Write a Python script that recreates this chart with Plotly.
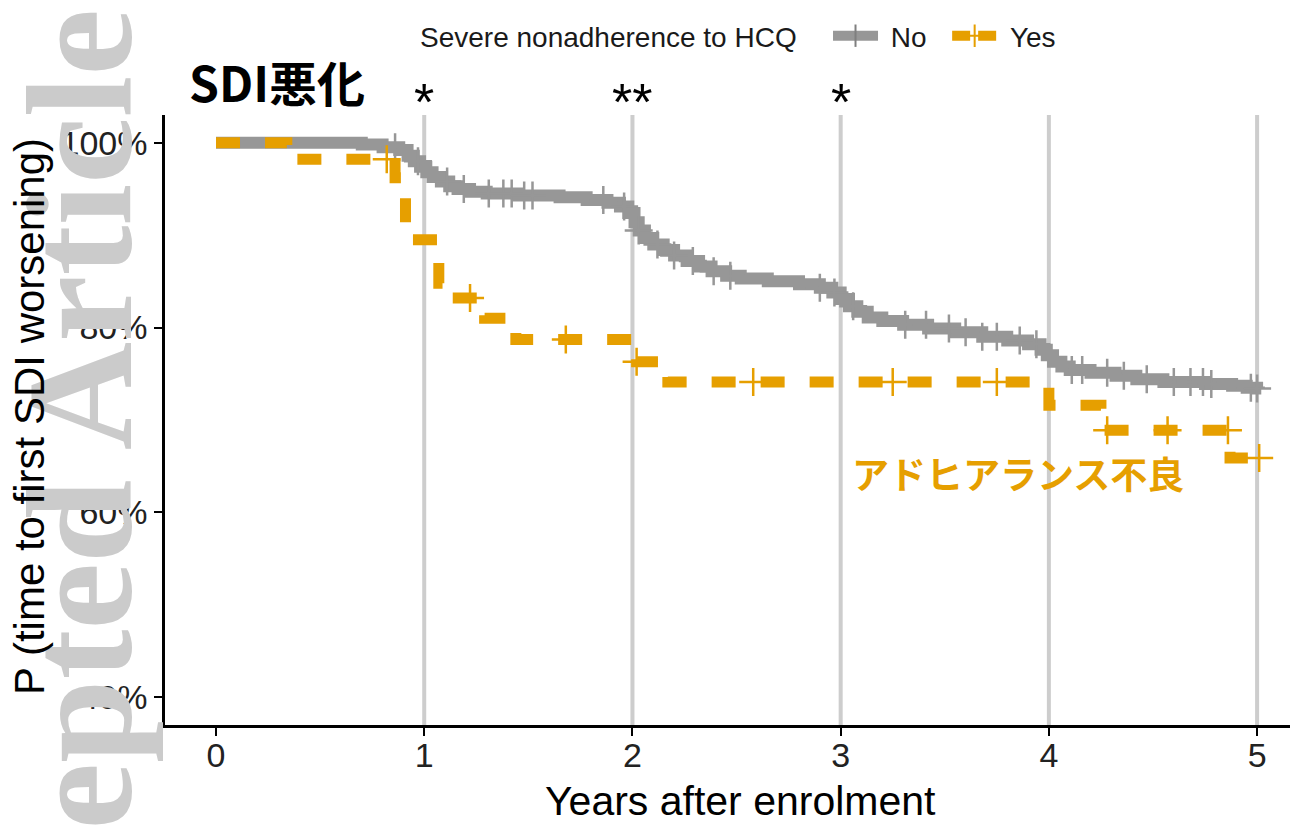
import plotly.graph_objects as go

# ---------------- data ----------------
# Kaplan-Meier step curve, "No" group (grey)
NO_T = [0.00, 0.70, 0.80, 0.88, 0.92, 0.95, 0.98, 1.01, 1.04, 1.08, 1.12, 1.16, 1.22, 1.30,
        1.45, 1.65, 1.78, 1.88, 1.94, 1.98, 2.01, 2.03, 2.06, 2.10, 2.15, 2.20, 2.26, 2.32,
        2.38, 2.45, 2.52, 2.65, 2.80, 2.90, 2.96, 3.00, 3.04, 3.08, 3.13, 3.20, 3.30, 3.42,
        3.55, 3.68, 3.80, 3.90, 3.96, 3.99, 4.02, 4.06, 4.10, 4.20, 4.32, 4.42, 4.55, 4.75,
        4.88, 4.95, 5.00, 5.02]
NO_S = [1.000, 0.998, 0.995, 0.992, 0.986, 0.980, 0.974, 0.968, 0.963, 0.958, 0.953, 0.950,
        0.947, 0.945, 0.943, 0.941, 0.938, 0.935, 0.931, 0.924, 0.914, 0.905, 0.897, 0.890,
        0.884, 0.878, 0.872, 0.866, 0.861, 0.856, 0.853, 0.850, 0.847, 0.843, 0.838, 0.831,
        0.823, 0.817, 0.811, 0.807, 0.803, 0.799, 0.795, 0.790, 0.786, 0.782, 0.776, 0.770,
        0.763, 0.758, 0.754, 0.751, 0.748, 0.744, 0.741, 0.739, 0.737, 0.735, 0.734, 0.734]
# censoring marks, "No"
NO_CT = [0.86, 0.97, 1.11, 1.19, 1.31, 1.38, 1.42, 1.48, 1.52, 1.86, 1.96, 2.03, 2.12, 2.20,
         2.29, 2.39, 2.47, 2.90, 2.97, 3.06, 3.31, 3.41, 3.52, 3.60, 3.68, 3.75, 3.86, 3.94,
         4.11, 4.16, 4.28, 4.36, 4.47, 4.60, 4.68, 4.74, 4.78, 4.97, 5.00]
NO_CS = [0.995, 0.980, 0.958, 0.950, 0.945, 0.945, 0.945, 0.943, 0.943, 0.938, 0.931, 0.905,
         0.890, 0.878, 0.872, 0.861, 0.856, 0.843, 0.838, 0.823, 0.803, 0.803, 0.799, 0.795,
         0.790, 0.790, 0.786, 0.782, 0.754, 0.754, 0.751, 0.748, 0.744, 0.741, 0.741, 0.741,
         0.739, 0.735, 0.734]

# Kaplan-Meier step curve, "Yes" group (orange, dashed)
YES_T = [0.00, 0.34, 0.86, 0.91, 1.07, 1.13, 1.29, 1.44, 2.02, 2.17, 4.00, 4.25, 4.87, 5.03]
YES_S = [1.000, 0.982, 0.962, 0.895, 0.848, 0.832, 0.810, 0.787, 0.763, 0.741, 0.716, 0.689,
         0.659, 0.659]
YES_CT = [0.82, 1.22, 1.68, 2.02, 2.58, 3.25, 3.75, 4.28, 4.57, 4.86, 5.01]
YES_CS = [0.982, 0.832, 0.787, 0.763, 0.741, 0.741, 0.741, 0.689, 0.689, 0.689, 0.659]

X_TICKS = [0, 1, 2, 3, 4, 5]
Y_TICKS = [0.4, 0.6, 0.8, 1.0]
Y_TICK_LABELS = ["40%", "60%", "80%", "100%"]
GRID_YEARS = [1, 2, 3, 4, 5]
SIG_YEARS = [1, 2, 3]
SIG_LABELS = ["*", "**", "*"]

TITLE = "SDI悪化"
GROUP_NOTE = "アドヒアランス不良"
LEGEND_TITLE = "Severe nonadherence to HCQ"
GROUP_NAMES = ["No", "Yes"]
X_TITLE = "Years after enrolment"
Y_TITLE = "P (time to first SDI worsening)"
WATERMARK = "Accepted Article"

GREY = "#979797"
ORANGE = "#E69F00"
FONT = "Liberation Sans, Arial, sans-serif"
NB = "\u00a0"

# ---------------- layout geometry ----------------
W, H = 1296, 825
ML, MR, MT, MB = 165, 6, 115, 100
PW = W - ML - MR
PH = H - MT - MB


def px_to_paper_x(px):
    return (px - ML) / PW


def px_to_paper_y(py):
    return (H - MB - py) / PH


fig = go.Figure()

# grey curve
fig.add_trace(go.Scatter(x=NO_T, y=NO_S, mode="lines", line=dict(color=GREY, width=12, shape="hv"),
                         showlegend=False, hoverinfo="skip"))
fig.add_trace(go.Scatter(x=NO_CT, y=NO_CS, mode="markers",
                         marker=dict(symbol="cross-thin", size=20, line=dict(color=GREY, width=2.5)),
                         showlegend=False, hoverinfo="skip"))
# orange curve
fig.add_trace(go.Scatter(x=YES_T, y=YES_S, mode="lines",
                         line=dict(color=ORANGE, width=11, shape="hv", dash="24px,25px"),
                         showlegend=False, hoverinfo="skip"))
fig.add_trace(go.Scatter(x=YES_CT, y=YES_CS, mode="markers",
                         marker=dict(symbol="cross-thin", size=20, line=dict(color=ORANGE, width=2.5)),
                         showlegend=False, hoverinfo="skip"))

# legend-only entries
fig.add_trace(go.Scatter(x=[None], y=[None], mode="lines+markers",
                         name=NB + GROUP_NAMES[0] + NB + NB,
                         line=dict(color=GREY, width=11),
                         marker=dict(symbol="line-ns", size=16, line=dict(color="#7f7f7f", width=2))))
fig.add_trace(go.Scatter(x=[None], y=[None], mode="lines+markers",
                         name=NB + GROUP_NAMES[1],
                         line=dict(color=ORANGE, width=11, dash="18px,8px"),
                         marker=dict(symbol="cross-thin", size=16, line=dict(color=ORANGE, width=2))))

# vertical reference lines at each year
for gx in GRID_YEARS:
    fig.add_shape(type="line", xref="x", yref="paper", x0=gx, x1=gx, y0=0, y1=1,
                  line=dict(color="#cdcdcd", width=4), layer="below")

annotations = []
for sx, lab in zip(SIG_YEARS, SIG_LABELS):
    annotations.append(dict(x=sx, xref="x", y=px_to_paper_y(102), yref="paper", text=lab,
                            showarrow=False, xanchor="center", yanchor="middle",
                            font=dict(family=FONT, size=52, color="black")))

annotations.append(dict(x=px_to_paper_x(187), xref="paper", y=px_to_paper_y(81), yref="paper",
                        text="<b>" + TITLE + "</b>", showarrow=False, xanchor="left", yanchor="middle",
                        font=dict(family="Noto Sans CJK JP, sans-serif", size=48, color="black")))

annotations.append(dict(x=3.852, xref="x", y=0.643, yref="y", text="<b>" + GROUP_NOTE + "</b>",
                        showarrow=False, xanchor="center", yanchor="middle",
                        font=dict(family="Noto Sans CJK JP, sans-serif", size=37, color=ORANGE)))

# watermark (drawn over tick labels, under the axis title)
annotations.append(dict(x=px_to_paper_x(80), xref="paper", y=px_to_paper_y(540), yref="paper",
                        text="<b>" + WATERMARK + "</b>", textangle=-90, showarrow=False,
                        xanchor="center", yanchor="middle",
                        font=dict(family="Liberation Serif, serif", size=150, color="#cbcbcb")))

# axis titles
annotations.append(dict(x=px_to_paper_x(30), xref="paper", y=px_to_paper_y(417), yref="paper",
                        text=Y_TITLE, textangle=-90, showarrow=False,
                        xanchor="center", yanchor="middle",
                        font=dict(family=FONT, size=42, color="black")))
annotations.append(dict(x=px_to_paper_x(740), xref="paper", y=px_to_paper_y(801), yref="paper",
                        text=X_TITLE, showarrow=False, xanchor="center", yanchor="middle",
                        font=dict(family=FONT, size=41, color="black")))

fig.update_layout(
    width=W, height=H,
    margin=dict(l=ML, r=MR, t=MT, b=MB),
    paper_bgcolor="white", plot_bgcolor="white",
    font=dict(family=FONT, color="black"),
    annotations=annotations,
    legend=dict(orientation="h", x=px_to_paper_x(418), xanchor="left",
                y=px_to_paper_y(36), yanchor="middle",
                title=dict(text=LEGEND_TITLE + NB + NB + NB, font=dict(size=28, family=FONT, color="#1a1a1a")),
                font=dict(size=28, family=FONT, color="#1a1a1a"),
                itemwidth=45, bgcolor="rgba(0,0,0,0)"),
    xaxis=dict(range=[-0.245, 5.158], tickvals=X_TICKS, ticktext=[str(v) for v in X_TICKS],
               showgrid=False, zeroline=False, showline=True, linecolor="black", linewidth=2.5,
               ticks="outside", ticklen=8, tickwidth=2, tickcolor="black",
               ticklabelstandoff=-10,
               tickfont=dict(size=34, family=FONT, color="#222222")),
    yaxis=dict(range=[0.37, 1.03], tickvals=Y_TICKS, ticktext=Y_TICK_LABELS,
               showgrid=False, zeroline=False, showline=True, linecolor="black", linewidth=2.5,
               ticks="outside", ticklen=8, tickwidth=2, tickcolor="black",
               tickfont=dict(size=34, family=FONT, color="#222222")),
)

fig.write_html("out.html")
